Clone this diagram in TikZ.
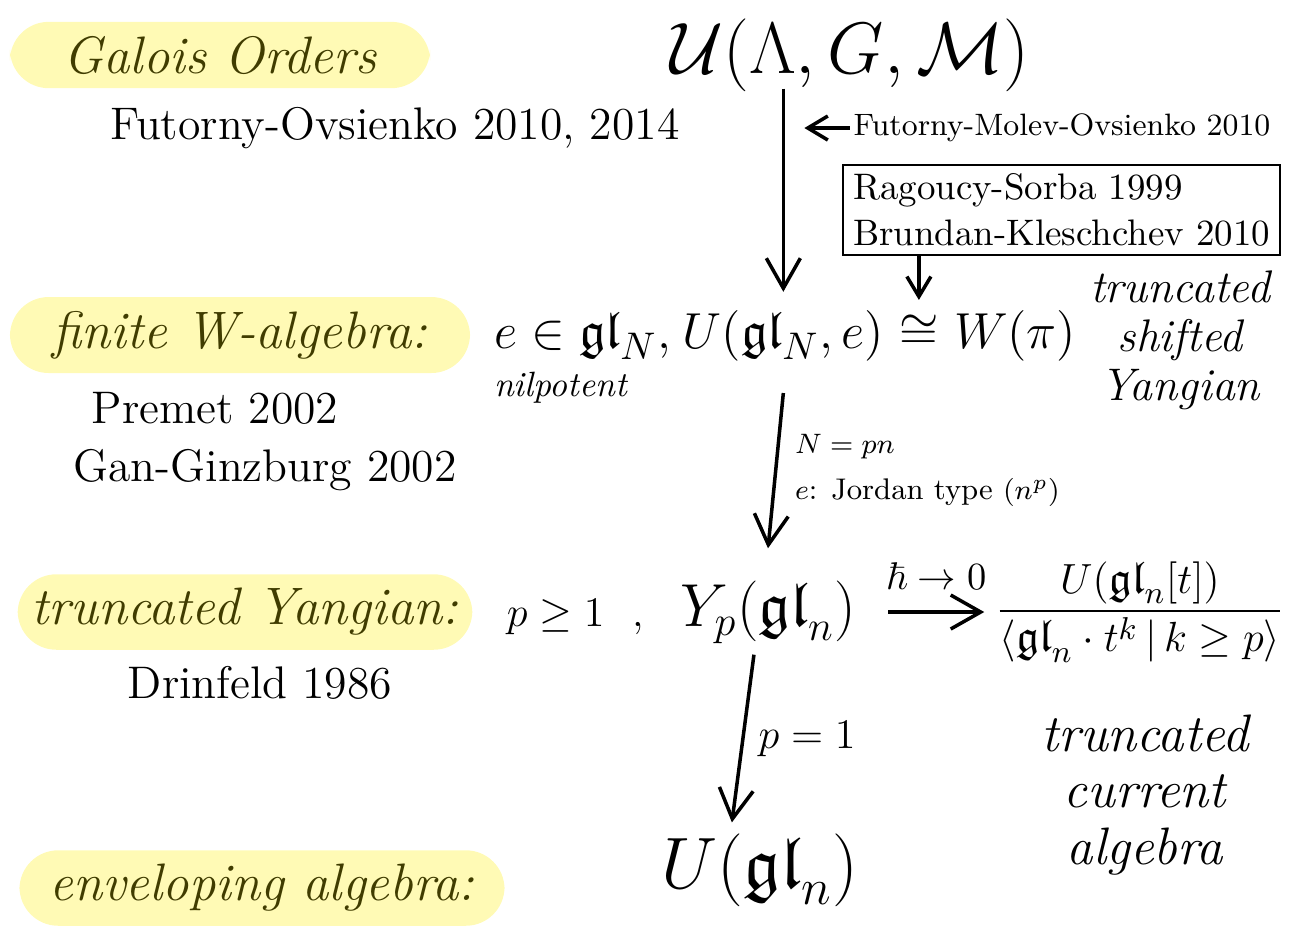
\documentclass[tikz,border=0pt]{standalone}
\usepackage{amsmath,amssymb}
\usepackage{xcolor}
\usepackage{tikz}
\usetikzlibrary{arrows.meta,positioning}
\definecolor{hlyellow}{HTML}{FFFAB5}
\definecolor{olivetext}{HTML}{403C00}

\begin{document}
\begin{tikzpicture}[
          every node/.style={inner sep=1pt},
          hl/.style={fill=hlyellow,rounded corners=11pt,text=olivetext,
                     minimum height=0.55cm,inner sep=4pt,
                     font=\fontsize{15}{18}\selectfont\itshape},
          cite/.style={font=\fontsize{13}{15}\selectfont},
          bigm/.style={font=\fontsize{15}{18}\selectfont},
          note/.style={align=center,font=\fontsize{13}{14}\selectfont\itshape},
          small/.style={font=\fontsize{8.5}{10}\selectfont},
          arr/.style={-{Straight Barb[length=3mm,width=3.4mm]},line width=1pt}
      ]
        \useasboundingbox (0,0) rectangle (12.91,-9.31);

        % left column: titles and references
        \node[hl,minimum width=4.2cm] (galois) at (2.2,-0.55) {Galois Orders};
        \node[cite] (fo) at (3.95,-1.28) {Futorny-Ovsienko 2010, 2014};
        \node[hl,minimum width=4.6cm] (finw) at (2.4,-3.35) {finite W-algebra:};
        \node[cite] (premet) at (2.15,-4.08) {Premet 2002};
        \node[cite] (gg) at (2.65,-4.7) {Gan-Ginzburg 2002};
        \node[hl,minimum width=4.4cm] (tyang) at (2.45,-6.12) {truncated Yangian:};
        \node[cite] (drin) at (2.6,-6.83) {Drinfeld 1986};
        \node[hl,minimum width=4.85cm] (env) at (2.62,-8.88) {enveloping algebra:};

        % middle column
        \node[font=\fontsize{22}{26}\selectfont] (ulgm) at (8.5,-0.55)
          {$\mathcal{U}(\Lambda,G,\mathcal{M})$};
        \node[bigm,anchor=base west] (egl) at (4.9,-3.48) {$e\in\mathfrak{gl}_N,$};
        \node[bigm,anchor=base west] (ugl) at ([xshift=1pt]egl.base east) {$U(\mathfrak{gl}_N,e)$};
        \node[bigm,anchor=base west] (iso) at ([xshift=2pt]ugl.base east) {$\cong$};
        \node[bigm,anchor=base west] (wpi) at ([xshift=2pt]iso.base east) {$W(\pi)$};
        \node[font=\fontsize{10}{12}\selectfont\itshape,anchor=north west]
          (nilp) at ([yshift=-1pt]egl.south west) {nilpotent};
        \node[font=\fontsize{18}{21}\selectfont] (yp) at (7.68,-6.12) {$Y_p(\mathfrak{gl}_n)$};
        \node[font=\fontsize{12}{14}\selectfont,anchor=base east] (pge)
          at ([xshift=-8pt]yp.base west) {$p\geq1$\ \ ,};
        \node[font=\fontsize{21}{25}\selectfont] (ugln) at (7.6,-8.7) {$U(\mathfrak{gl}_n)$};

        % right column
        \node[font=\fontsize{8.8}{10}\selectfont] (fmo) at (10.62,-1.28)
          {Futorny-Molev-Ovsienko 2010};
        \node[draw,line width=0.8pt,align=left,minimum width=4.37cm,minimum height=0.9cm,
              font=\fontsize{10.5}{13}\selectfont] (rsbk) at (10.615,-2.1)
          {Ragoucy-Sorba 1999\\Brundan-Kleschchev 2010};
        \node[note] (tsy) at (11.8,-3.4) {truncated\\shifted\\Yangian};
        \node[font=\fontsize{13}{16}\selectfont] (frac) at (11.4,-6.12)
          {$\dfrac{U(\mathfrak{gl}_n[t])}{\langle\mathfrak{gl}_n\cdot t^k\,|\,k\geq p\rangle}$};
        \node[note,font=\fontsize{15}{16}\selectfont\itshape] (tca) at (11.45,-7.95)
          {truncated\\current\\algebra};

        % arrows
        \draw[arr] ([yshift=2pt]ugl.north |- ulgm.south) -- ([yshift=4pt]ugl.north);
        \coordinate (fmoarr) at (ugl.north |- fmo.west);
        \draw[arr,-{Straight Barb[length=2mm,width=2.4mm]}] (fmo.west) -- ([xshift=6pt]fmoarr);
        \draw[arr,-{Straight Barb[length=2mm,width=2.4mm]}] (iso |- rsbk.south) -- ([yshift=3pt]iso.north);
        \draw[arr] ([yshift=-8pt]ugl.south) -- node[right,small,align=left,xshift=4pt]
          {$N=pn$\\[3pt]$e$: Jordan type $(n^p)$} ([yshift=8pt]yp.north);
        \draw[arr] ([xshift=8pt]yp.east) -- node[above=5pt,font=\fontsize{11}{13}\selectfont]
          {$\hbar\to0$} ([xshift=-2pt]frac.west);
        \draw[arr] ([xshift=-4pt,yshift=-2pt]yp.south) -- node[right,font=\fontsize{12}{14}\selectfont,xshift=3pt]
          {$p=1$} ([xshift=-8pt,yshift=2pt]ugln.north);
      \end{tikzpicture}
\end{document}
